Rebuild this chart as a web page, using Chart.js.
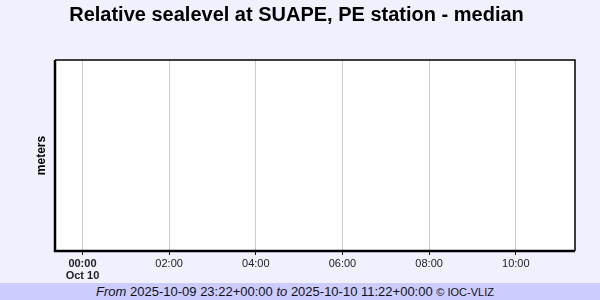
<!DOCTYPE html>
<html>
<head>
<meta charset="utf-8">
<script src="https://cdn.jsdelivr.net/npm/chart.js@4/dist/chart.umd.min.js"></script>
<style>
  html, body { margin: 0; padding: 0; background: #f0f0ff; }
  #wrap { position: relative; width: 600px; height: 300px; overflow: hidden; background: #f0f0ff; }
  #c { position: absolute; left: 0; top: 0; }
  #footer {
    position: absolute; left: 0; top: 283px; width: 600px; height: 17px;
    box-sizing: border-box; padding-right: 10px;
    background: #ccccff; color: #111;
    font: 13px "Liberation Sans", Arial, sans-serif;
    line-height: 18px; text-align: center; white-space: nowrap;
  }
  #footer i { font-style: italic; }
  #footer small { font-size: 11px; }
</style>
</head>
<body>
<div id="wrap">
  <canvas id="c" width="600" height="283"></canvas>
  <div id="footer"><i>From</i> 2025-10-09 23:22+00:00 <i>to</i> 2025-10-10 11:22+00:00 <small>© IOC-VLIZ</small></div>
</div>
<script>
// ---- data (minutes relative to 2025-10-10 00:00 UTC) ----
const titleText = "Relative sealevel at SUAPE, PE station - median";
const yAxisLabel = "meters";
const rangeStart = -38;   // 2025-10-09 23:22
const rangeEnd = 682;     // 2025-10-10 11:22
const tickValues = [0, 120, 240, 360, 480, 600];
const tickLabels = [["00:00", "Oct 10"], "02:00", "04:00", "06:00", "08:00", "10:00"];
const seaLevelTimes = [];   // no measurements in range
const seaLevelValues = [];

const points = seaLevelTimes.map((t, i) => ({ x: t, y: seaLevelValues[i] }));

const framePlugin = {
  id: 'frame',
  beforeDraw(chart) {
    const { ctx, chartArea: a } = chart;
    ctx.save();
    ctx.fillStyle = '#ffffff';
    ctx.fillRect(a.left, a.top, a.right - a.left, a.bottom - a.top);
    ctx.restore();
  },
  afterDraw(chart) {
    const { ctx, chartArea: a } = chart;
    ctx.save();
    ctx.strokeStyle = '#000';
    ctx.lineWidth = 1.5;
    ctx.beginPath();
    ctx.moveTo(a.left, a.top); ctx.lineTo(a.right, a.top); ctx.lineTo(a.right, a.bottom);
    ctx.stroke();
    ctx.lineWidth = 2.5;
    ctx.beginPath();
    ctx.moveTo(a.left, a.top); ctx.lineTo(a.left, a.bottom); ctx.lineTo(a.right, a.bottom);
    ctx.stroke();
    ctx.restore();
  }
};

new Chart(document.getElementById('c'), {
  type: 'line',
  data: {
    datasets: [{
      label: 'median',
      data: points,
      borderColor: '#0000ff',
      borderWidth: 1,
      pointRadius: 0
    }]
  },
  options: {
    responsive: false,
    animation: false,
    devicePixelRatio: 1,
    layout: { padding: { left: 18, right: 25, top: 0, bottom: 0 } },
    plugins: {
      legend: { display: false },
      tooltip: { enabled: false },
      title: {
        display: true,
        text: titleText,
        color: '#000',
        font: { family: '"Liberation Sans", Arial, sans-serif', size: 20, weight: 'bold' },
        padding: { top: 3, bottom: 33 }
      }
    },
    scales: {
      x: {
        type: 'linear',
        min: rangeStart,
        max: rangeEnd,
        afterBuildTicks(scale) { scale.ticks = tickValues.map(v => ({ value: v })); },
        afterFit(scale) { scale.height = 32; },
        border: { display: false },
        grid: { display: true, color: '#cccccc', lineWidth: 1, tickLength: 4, tickColor: '#000', drawTicks: true },
        ticks: {
          autoSkip: false,
          maxRotation: 0,
          padding: 3,
          color: '#222',
          font(ctx) {
            const bold = ctx.tick && ctx.tick.value === 0;
            return { family: '"Liberation Sans", Arial, sans-serif', size: 11, weight: bold ? 'bold' : 'normal', lineHeight: 1.1 };
          },
          callback(value) {
            const i = tickValues.indexOf(value);
            return i >= 0 ? tickLabels[i] : '';
          }
        }
      },
      y: {
        type: 'linear',
        min: 0,
        max: 1,
        afterFit(scale) { scale.width = 37; },
        border: { display: false },
        grid: { display: false, drawTicks: false },
        ticks: { display: false },
        title: {
          display: true,
          text: yAxisLabel,
          color: '#000',
          font: { family: '"Liberation Sans", Arial, sans-serif', size: 12, weight: 'bold' },
          padding: { top: 16.5, bottom: 0 }
        }
      }
    }
  },
  plugins: [framePlugin]
});
</script>
</body>
</html>
